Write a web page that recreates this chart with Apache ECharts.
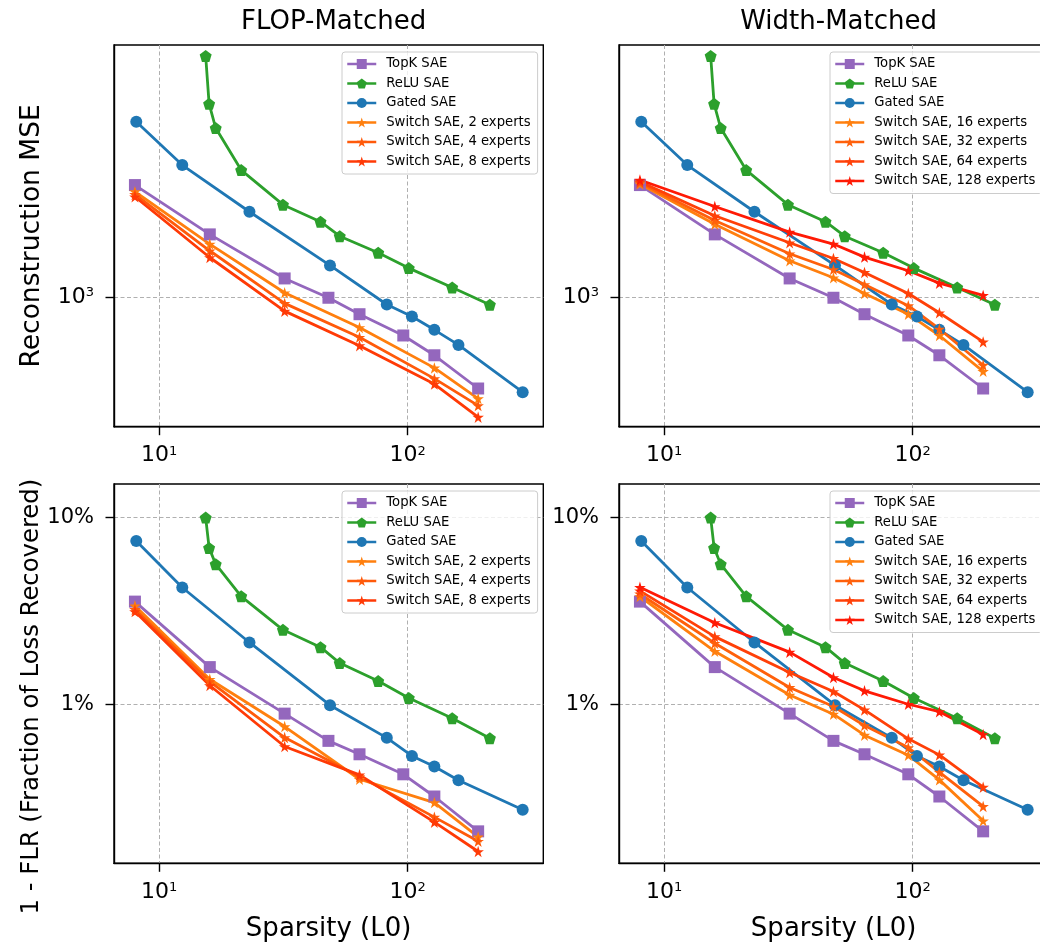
<!DOCTYPE html>
<html>
<head>
<meta charset="utf-8">
<script src="https://cdn.jsdelivr.net/npm/echarts@6/dist/echarts.min.js"></script>
<style>html,body{margin:0;background:#fff;overflow:hidden}#main{width:1050px;height:946px}</style>
</head>
<body>
<div id="main"></div>
<script>
// sparsity (L0) of each run
const topkL0 = [8, 16, 32, 48, 64, 96, 128, 192];
const reluL0 = [15.4, 15.9, 16.9, 21.4, 31.5, 44.6, 53.3, 76.1, 101, 151, 214];
const gatedL0 = [8.1, 12.4, 23.1, 48.7, 82.4, 104, 128, 160, 290];
const switchL0Flop = [8, 16, 32, 64, 128, 192];
const switchL0Width = [8, 16, 32, 48, 64, 96, 128, 192];

// reconstruction MSE
const topkMSE = [2362, 1618, 1154, 995, 877, 745, 640, 496];
const reluMSE = [6360, 4406, 3657, 2650, 2032, 1783, 1596, 1405, 1249, 1077, 943];
const gatedMSE = [3837, 2754, 1925, 1275, 945, 862, 778, 693, 482];
const switch2MSE = [2245, 1502, 1034, 792, 581, 459];
const switch4MSE = [2198, 1427, 953, 735, 535, 435];
const switch8MSE = [2159, 1355, 898, 689, 513, 398];
const switch16MSE = [2382, 1750, 1321, 1160, 1028, 877, 745, 566];
const switch32MSE = [2405, 1801, 1394, 1236, 1101, 936, 783, 593];
const switch64MSE = [2423, 1866, 1517, 1345, 1208, 1028, 887, 709];
const switch128MSE = [2455, 2004, 1647, 1502, 1359, 1224, 1113, 1013];

// 1 - FLR, in percent
const topkFLR = [3.54, 1.58, 0.891, 0.637, 0.540, 0.422, 0.321, 0.209];
const reluFLR = [9.96, 6.86, 5.61, 3.78, 2.50, 2.02, 1.66, 1.33, 1.08, 0.842, 0.658];
const gatedFLR = [7.47, 4.21, 2.14, 0.988, 0.661, 0.529, 0.464, 0.392, 0.273];
const switch2FLR = [3.36, 1.36, 0.760, 0.397, 0.298, 0.195];
const switch4FLR = [3.22, 1.32, 0.663, 0.410, 0.249, 0.185];
const switch8FLR = [3.13, 1.26, 0.594, 0.419, 0.234, 0.163];
const switch16FLR = [3.77, 1.92, 1.12, 0.885, 0.683, 0.534, 0.394, 0.238];
const switch32FLR = [3.89, 2.12, 1.23, 0.972, 0.769, 0.587, 0.433, 0.284];
const switch64FLR = [4.04, 2.30, 1.48, 1.17, 0.933, 0.653, 0.536, 0.360];
const switch128FLR = [4.22, 2.73, 1.90, 1.39, 1.18, 1.00, 0.913, 0.689];

// tick labels
const xTicks = [10, 100];
const mseTicks = [1000];
const flrTicks = [1, 10];

const FONT = 'DejaVu Sans';
const STAR = 'path://M50,0 L61.23,34.55 L97.55,34.55 L68.17,55.9 L79.39,90.45 L50,69.1 L20.61,90.45 L31.83,55.9 L2.45,34.55 L38.77,34.55 Z';
const PENTA = 'path://M50,0 L97.55,34.55 L79.39,90.45 L20.61,90.45 L2.45,34.55 Z';

const baseLines = [
  {name: 'TopK SAE', x: topkL0, mse: topkMSE, flr: topkFLR, color: '#9467bd', symbol: 'rect', size: 12},
  {name: 'ReLU SAE', x: reluL0, mse: reluMSE, flr: reluFLR, color: '#2ca02c', symbol: PENTA, size: 12},
  {name: 'Gated SAE', x: gatedL0, mse: gatedMSE, flr: gatedFLR, color: '#1f77b4', symbol: 'circle', size: 12}
];
const flopLines = [
  {name: 'Switch SAE, 2 experts', x: switchL0Flop, mse: switch2MSE, flr: switch2FLR, color: '#ff7f0e'},
  {name: 'Switch SAE, 4 experts', x: switchL0Flop, mse: switch4MSE, flr: switch4FLR, color: '#ff5a0a'},
  {name: 'Switch SAE, 8 experts', x: switchL0Flop, mse: switch8MSE, flr: switch8FLR, color: '#ff3a06'}
];
const widthLines = [
  {name: 'Switch SAE, 16 experts', x: switchL0Width, mse: switch16MSE, flr: switch16FLR, color: '#ff7f0e'},
  {name: 'Switch SAE, 32 experts', x: switchL0Width, mse: switch32MSE, flr: switch32FLR, color: '#ff600b'},
  {name: 'Switch SAE, 64 experts', x: switchL0Width, mse: switch64MSE, flr: switch64FLR, color: '#ff4008'},
  {name: 'Switch SAE, 128 experts', x: switchL0Width, mse: switch128MSE, flr: switch128FLR, color: '#ff1a05'}
];

function supLabel(v) {
  return '{b|10}{s|' + Math.round(Math.log10(v)) + '}';
}
const richSup = {
  b: {fontSize: 22, lineHeight: 22, fontFamily: FONT, color: '#000'},
  s: {fontSize: 13, lineHeight: 10, verticalAlign: 'top', fontFamily: FONT, color: '#000'}
};

// canvas is a bit wider than the window: the right column runs past the edge like the original
const grids = [
  {left: 114, top: 45, width: 429.3, height: 381.7},
  {left: 619, top: 45, width: 429.3, height: 381.7},
  {left: 114, top: 484, width: 429.3, height: 379.3},
  {left: 619, top: 484, width: 429.3, height: 379.3}
].map(g => Object.assign(g, {show: true, borderColor: '#000', borderWidth: 1.4, backgroundColor: '#fff'}));

const splitLine = {show: true, lineStyle: {color: '#b0b0b0', width: 1, type: [4, 2.5]}};

const xAxis = grids.map((g, i) => ({
  type: 'log', logBase: 10, gridIndex: i, min: 6.59, max: 351,
  axisLine: {show: true, lineStyle: {color: '#000', width: 1.4}},
  axisTick: {show: true, customValues: xTicks, length: 8.5, lineStyle: {color: '#000', width: 1.4}},
  axisLabel: {customValues: xTicks, margin: 18, formatter: supLabel, rich: richSup},
  splitLine: splitLine,
  name: i >= 2 ? 'Sparsity (L0)' : '',
  nameLocation: 'middle', nameGap: 53,
  nameTextStyle: {fontSize: 26, fontFamily: FONT, color: '#000'}
}));

const yAxis = grids.map((g, i) => {
  const top = i < 2;
  return {
    type: 'log', logBase: 10, gridIndex: i,
    min: top ? 370 : 0.141, max: top ? 6918 : 15.07,
    axisLine: {show: true, lineStyle: {color: '#000', width: 1.4}},
    axisTick: {show: true, customValues: top ? mseTicks : flrTicks, length: 8.5, lineStyle: {color: '#000', width: 1.4}},
    axisLabel: top
      ? {customValues: mseTicks, margin: 20, formatter: supLabel, rich: richSup}
      : {customValues: flrTicks, margin: 20, formatter: '{value}%', fontSize: 21, fontFamily: FONT, color: '#000'},
    splitLine: splitLine,
    name: i === 0 ? 'Reconstruction MSE' : (i === 2 ? '1 - FLR (Fraction of Loss Recovered)' : ''),
    nameLocation: 'middle', nameGap: 68,
    nameTextStyle: top
      ? {fontSize: 26.5, fontFamily: FONT, color: '#000'}
      : {fontSize: 24.3, fontFamily: FONT, color: '#000', padding: [0, 46, 0, 0]}
  };
});

const series = [];
function addSeries(line, gi, key) {
  const d = line.x.map((x, k) => [x, line[key][k]]);
  series.push({
    name: line.name, type: 'line', xAxisIndex: gi, yAxisIndex: gi, data: d,
    symbol: line.symbol || STAR, symbolSize: line.size || 11.5,
    color: line.color,
    itemStyle: {color: line.color},
    lineStyle: {color: line.color, width: 2.8},
    emphasis: {disabled: true}
  });
}
[0, 1, 2, 3].forEach(gi => {
  const key = gi < 2 ? 'mse' : 'flr';
  const sw = gi % 2 === 0 ? flopLines : widthLines;
  baseLines.concat(sw).forEach(l => addSeries(l, gi, key));
});

const leftNames = baseLines.concat(flopLines).map(l => l.name);
const rightNames = baseLines.concat(widthLines).map(l => l.name);
const legendBase = {
  orient: 'vertical', itemWidth: 29, itemHeight: 12.5, itemGap: 6.5,
  padding: [5.5, 7, 6, 4], selectedMode: false,
  backgroundColor: 'rgba(255,255,255,0.8)', borderColor: '#cccccc', borderWidth: 1, borderRadius: 3,
  textStyle: {fontSize: 13.2, fontFamily: FONT, color: '#000', padding: [0, 0, 0, 5]},
  lineStyle: {width: 2.5}
};
const legend = [
  {data: leftNames, left: 342, top: 52},
  {data: rightNames, left: 830, top: 52},
  {data: leftNames, left: 342, top: 491},
  {data: rightNames, left: 830, top: 491}
].map(l => Object.assign({}, legendBase, l));

const chart = echarts.init(document.getElementById('main'));
chart.setOption({
  animation: false,
  backgroundColor: '#fff',
  title: [
    {text: 'FLOP-Matched', left: 328.6, top: 4, textAlign: 'center', textStyle: {fontSize: 26, fontWeight: 'normal', color: '#000', fontFamily: FONT}},
    {text: 'Width-Matched', left: 833.6, top: 4, textAlign: 'center', textStyle: {fontSize: 26, fontWeight: 'normal', color: '#000', fontFamily: FONT}}
  ],
  grid: grids,
  xAxis: xAxis,
  yAxis: yAxis,
  legend: legend,
  series: series
});
</script>
</body>
</html>
